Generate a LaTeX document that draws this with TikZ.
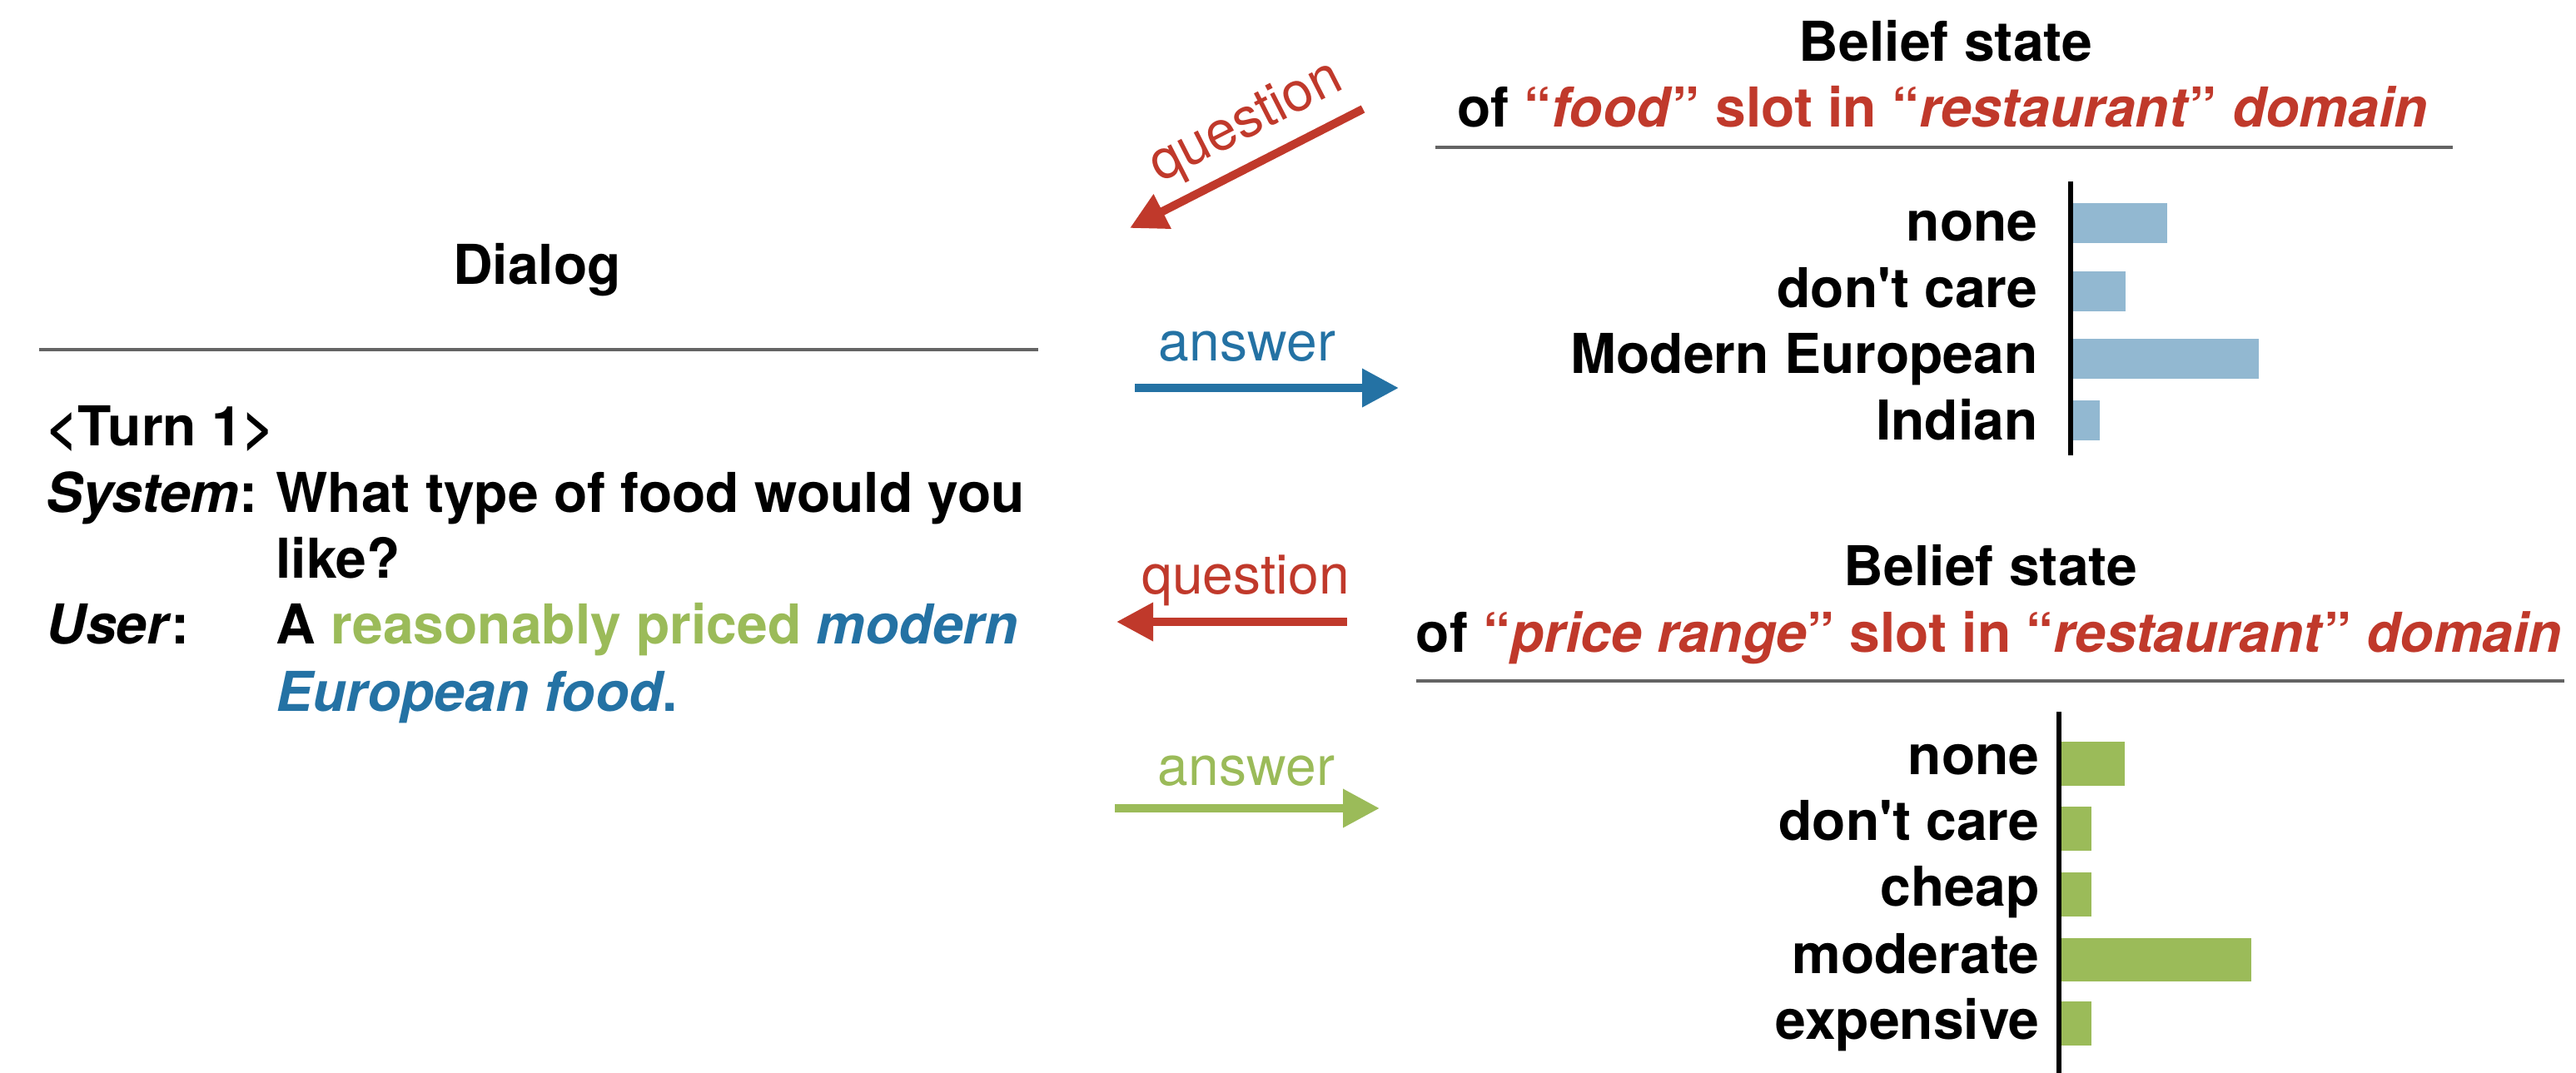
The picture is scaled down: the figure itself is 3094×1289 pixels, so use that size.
\documentclass[tikz,border=0pt]{standalone}
\usepackage{fontspec}
\setmainfont{TeX Gyre Heros}
\newfontfamily\hvnolig{TeX Gyre Heros}
\usetikzlibrary{arrows.meta}
\definecolor{cred}{RGB}{192,57,43}
\definecolor{cblue}{RGB}{36,114,164}
\definecolor{cgreen}{RGB}{155,187,89}
\definecolor{cbar}{RGB}{146,184,209}
\definecolor{crule}{RGB}{100,100,100}
\newcommand{\sq}{{\hvnolig\bfseries '}}
\tikzset{
  txt/.style={inner sep=0pt, font=\fontsize{33}{40}\selectfont\bfseries},
  arrlbl/.style={inner sep=0pt, font=\fontsize{33}{40}\selectfont},
  rulel/.style={draw=crule, line width=1.6pt},
  axisl/.style={draw=black, line width=2.6pt},
  bluebar/.style={fill=cbar, draw=none},
  greenbar/.style={fill=cgreen, draw=none},
  bigarrow/.style={line width=5pt, -{Triangle[length=22pt,width=22pt]}},
}
\begin{document}
\begin{tikzpicture}[x=0.5pt,y=-0.5pt]
\path[use as bounding box] (0,0) rectangle (3094,1289);

% ---------- Top belief state ----------
\node[txt, anchor=base] (bsA) at (2337,74) {Belief state};
\node[txt, anchor=base] (bsAs) at (2333,153) {of \textcolor{cred}{“\textit{food}” slot in “\textit{restaurant}” \textit{domain}}};
\coordinate (r1L) at (1724,177);
\coordinate (r1R) at (2946,177);
\draw[rulel] (r1L) -- (r1R);

% ---------- Dialog ----------
\node[txt, anchor=base] (dlg) at (645,342) {Dialog};
\coordinate (dlgL) at (47,420);
\coordinate (dlgR) at (1247,420);
\draw[rulel] (dlgL) -- (dlgR);

\node[txt, anchor=base west] (turn) at (55,535) {<Turn 1>};
\node[txt, anchor=base west] (sys) at (55,615) {\textit{System}:};
\node[txt, anchor=base west] (sysA) at (331,615) {What type of food would you};
\node[txt, anchor=base west] (sysB) at (331,694) {like?};
\node[txt, anchor=base west] (usr) at (55,773) {\textit{User}:};
\node[txt, anchor=base west] (usrA) at (331,773) {A \textcolor{cgreen}{reasonably priced} \textcolor{cblue}{\textit{modern}}};
\node[txt, anchor=base west] (usrB) at (331,854) {\textcolor{cblue}{\textit{European food}.}};

\coordinate (ax1T) at (2487,218);
\coordinate (ax1B) at (2487,547);
\fill[bluebar] (2489,244) rectangle (2603,292);
\fill[bluebar] (2489,326) rectangle (2553,374);
\fill[bluebar] (2489,407) rectangle (2713,455);
\fill[bluebar] (2489,481) rectangle (2522,529);
\draw[axisl] (ax1T) -- (ax1B);
\node[txt, anchor=base east] (f1) at (2448,290) {none};
\node[txt, anchor=base east] (f2) at (2448,369) {don\sq t care};
\node[txt, anchor=base east] (f3) at (2448,448) {Modern European};
\node[txt, anchor=base east] (f4) at (2448,528) {Indian};

% ---------- Bottom belief state ----------
\node[txt, anchor=base] (bsB) at (2391,703) {Belief state};
\node[txt, anchor=base] (bsBs) at (2389,783) {of \textcolor{cred}{“\textit{price range}” slot in “\textit{restaurant}” \textit{domain}}};
\coordinate (r2L) at (1701,818);
\coordinate (r2R) at (3080,818);
\draw[rulel] (r2L) -- (r2R);

\coordinate (ax2T) at (2473,855);
\coordinate (ax2B) at (2473,1289);
\fill[greenbar] (2475,891) rectangle (2552,944);
\fill[greenbar] (2475,969) rectangle (2512,1022);
\fill[greenbar] (2475,1048) rectangle (2512,1101);
\fill[greenbar] (2475,1127) rectangle (2704,1179);
\fill[greenbar] (2475,1203) rectangle (2512,1256);
\draw[axisl] (ax2T) -- (ax2B);
\node[txt, anchor=base east] (p1) at (2450,930) {none};
\node[txt, anchor=base east] (p2) at (2450,1009) {don\sq t care};
\node[txt, anchor=base east] (p3) at (2450,1088) {cheap};
\node[txt, anchor=base east] (p4) at (2450,1169) {moderate};
\node[txt, anchor=base east] (p5) at (2450,1248) {expensive};

% ---------- Arrows ----------
\coordinate (q1s) at (1637,131);
\coordinate (q1e) at (1357,274);
\draw[bigarrow, cred] (q1s) -- (q1e);
\node[arrlbl, text=cred, anchor=base, rotate=27] (q1l) at (1505,163) {question};

\coordinate (a1s) at (1363,466);
\coordinate (a1e) at (1680,466);
\draw[bigarrow, cblue] (a1s) -- (a1e);
\node[arrlbl, text=cblue, anchor=base] (a1l) at (1498,433) {answer};

\coordinate (q2s) at (1618,747);
\coordinate (q2e) at (1341,747);
\draw[bigarrow, cred] (q2s) -- (q2e);
\node[arrlbl, text=cred, anchor=base] (q2l) at (1496,713) {question};

\coordinate (a2s) at (1339,971);
\coordinate (a2e) at (1657,971);
\draw[bigarrow, cgreen] (a2s) -- (a2e);
\node[arrlbl, text=cgreen, anchor=base] (a2l) at (1497,943) {answer};
\end{tikzpicture}
\end{document}
